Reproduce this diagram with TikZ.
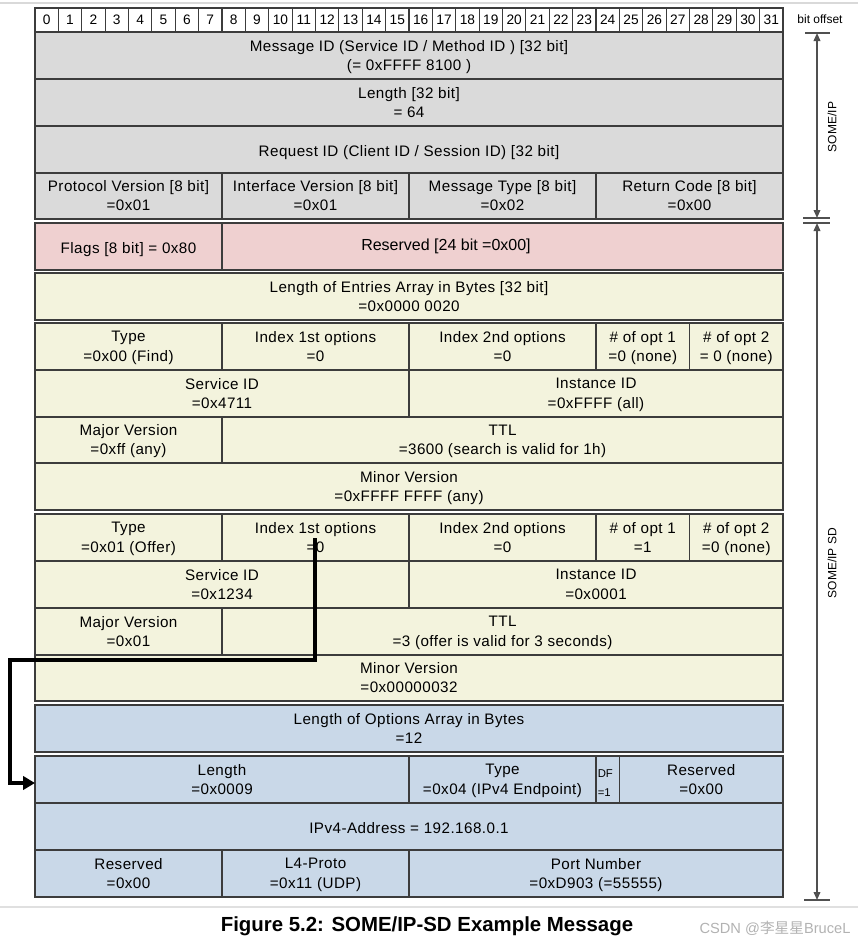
\documentclass[tikz,border=0pt]{standalone}
\usepackage{fontspec}
\setmainfont{Liberation Sans}
\newfontfamily\cjk{Noto Sans CJK SC}
\newfontfamily\cellfont[LetterSpace=3]{Liberation Sans}
\usetikzlibrary{arrows.meta}
\definecolor{cgray}{HTML}{DADADA}
\definecolor{cpink}{HTML}{EFD0D0}
\definecolor{ccream}{HTML}{F3F3DD}
\definecolor{cblue}{HTML}{C9D8E8}
\definecolor{cline}{HTML}{3C3C3C}
\definecolor{cdim}{HTML}{505050}
\newcommand\fcell[7]{%
  \node[cellbox, fill=#6, minimum width={(#4-#2)*0.75pt}, minimum height={(#5-#3)*0.75pt}] (#1) at ({(#2+#4)/2},{(#3+#5)/2}) {};
  \node[celltext] (#1t) at ({(#2+#4)/2},{(#3+#5)/2}) {#7};}
\begin{document}
\begin{tikzpicture}[x=0.75pt,y=-0.75pt,
  cellbox/.style={draw=cline, line width=1pt, rectangle, inner sep=0pt, outer sep=0pt},
  celltext/.style={inner sep=0pt, outer sep=0pt, align=center, yshift=-2pt,
    font=\cellfont\fontsize{11.4}{14.4}\selectfont,
    execute at begin node=\strut, execute at end node=\strut},
  bitbox/.style={draw=cline, line width=0.9pt, rectangle, inner sep=0pt, outer sep=0pt, fill=white,
    font=\fontsize{10.3}{12}\selectfont, minimum width={23.375*0.75pt}, minimum height={24*0.75pt}},
  dimline/.style={draw=cdim, line width=1.1pt},
  lbl/.style={font=\fontsize{9}{11}\selectfont, inner sep=0pt},
  link/.style={draw=black, line width=3pt, -{Triangle[length=9pt,width=10pt]}}]
\useasboundingbox (0,0) rectangle (858,947);
% separator lines
\draw[draw=black!15, line width=1pt] (0,3) -- (858,3);
\draw[draw=black!12, line width=1pt] (0,907) -- (858,907);
% bit header
\foreach \b in {0,...,31} {
  \node[bitbox] (b\b) at ({35+(\b+0.5)*23.375},20) {\b};
}
\node[lbl] (boff) at (820,19) {bit offset};
% SOME/IP header
\fcell{msgid}{35}{32}{783}{79}{cgray}{Message ID (Service ID / Method ID ) [32 bit]\\(= 0xFFFF 8100 )}
\fcell{len}{35}{79}{783}{126}{cgray}{Length [32 bit]\\= 64}
\fcell{reqid}{35}{126}{783}{173}{cgray}{Request ID (Client ID / Session ID) [32 bit]}
\fcell{pv}{35}{173}{222}{219}{cgray}{Protocol Version [8 bit]\\=0x01}
\fcell{iv}{222}{173}{409}{219}{cgray}{Interface Version [8 bit]\\=0x01}
\fcell{mt}{409}{173}{596}{219}{cgray}{Message Type [8 bit]\\=0x02}
\fcell{rc}{596}{173}{783}{219}{cgray}{Return Code [8 bit]\\=0x00}
% flags
\fcell{flags}{35}{223}{222}{270}{cpink}{Flags [8 bit] = 0x80}
\fcell{resv}{222}{223}{783}{270}{cpink}{}
\node[font=\fontsize{12}{14}\selectfont, inner sep=0pt] (resvtxt) at (446,246.5) {Reserved [24 bit =0x00]};
% entries length
\fcell{lenent}{35}{273}{783}{320}{ccream}{Length of Entries Array  in Bytes [32 bit]\\=0x0000 0020}
% entry 1
\fcell{eAtype}{35}{323}{222}{370}{ccream}{Type\\=0x00 (Find)}
\fcell{eAidx1}{222}{323}{409}{370}{ccream}{Index 1st options\\=0}
\fcell{eAidx2}{409}{323}{596}{370}{ccream}{Index 2nd options\\=0}
\fcell{eAno1}{596}{323}{689.5}{370}{ccream}{\# of opt  1\\=0 (none)}
\fcell{eAno2}{689.5}{323}{783}{370}{ccream}{\# of opt 2\\= 0 (none)}
\fcell{eAsid}{35}{370}{409}{417}{ccream}{Service ID\\=0x4711}
\fcell{eAiid}{409}{370}{783}{417}{ccream}{Instance ID\\=0xFFFF (all)}
\fcell{eAmaj}{35}{417}{222}{463}{ccream}{Major Version\\=0xff (any)}
\fcell{eAttl}{222}{417}{783}{463}{ccream}{TTL\\=3600  (search is valid for 1h)}
\fcell{eAmin}{35}{463}{783}{510}{ccream}{Minor Version\\=0xFFFF FFFF (any)}
% entry 2
\fcell{eBtype}{35}{514}{222}{561}{ccream}{Type\\=0x01 (Offer)}
\fcell{eBidx1}{222}{514}{409}{561}{ccream}{Index 1st options\\=0}
\fcell{eBidx2}{409}{514}{596}{561}{ccream}{Index 2nd options\\=0}
\fcell{eBno1}{596}{514}{689.5}{561}{ccream}{\# of opt  1\\=1}
\fcell{eBno2}{689.5}{514}{783}{561}{ccream}{\# of opt 2\\=0 (none)}
\fcell{eBsid}{35}{561}{409}{608}{ccream}{Service ID\\=0x1234}
\fcell{eBiid}{409}{561}{783}{608}{ccream}{Instance ID\\=0x0001}
\fcell{eBmaj}{35}{608}{222}{655}{ccream}{Major Version\\=0x01}
\fcell{eBttl}{222}{608}{783}{655}{ccream}{TTL\\=3 (offer is valid for 3 seconds)}
\fcell{eBmin}{35}{655}{783}{701}{ccream}{Minor Version\\=0x00000032}
% options
\fcell{lenopt}{35}{705}{783}{752}{cblue}{Length of Options Array  in Bytes\\=12}
\fcell{olen}{35}{756}{409}{803}{cblue}{Length\\=0x0009}
\fcell{otype}{409}{756}{596}{803}{cblue}{Type\\=0x04 (IPv4 Endpoint)}
\fcell{odf}{596}{756}{619.4}{803}{cblue}{}
\node[font=\fontsize{8.5}{14.4}\selectfont, align=left, anchor=west, inner sep=0pt] (dftxt) at (597.5,783) {DF\\=1};
\fcell{ores}{619.4}{756}{783}{803}{cblue}{Reserved\\=0x00}
\fcell{oip}{35}{803}{783}{850}{cblue}{IPv4-Address = 192.168.0.1}
\fcell{ores2}{35}{850}{222}{897}{cblue}{Reserved\\=0x00}
\fcell{oproto}{222}{850}{409}{897}{cblue}{L4-Proto\\=0x11 (UDP)}
\fcell{oport}{409}{850}{783}{897}{cblue}{Port Number\\=0xD903 (=55555)}
% link arrow
\coordinate (lk0) at (315,538);
\coordinate (lk1) at (315,660);
\coordinate (lk2) at (10,660);
\coordinate (lk3) at (10,783);
\coordinate (lk4) at (olen.west |- 0,783);
\draw[link] (lk0) -- (lk1) -- (lk2) -- (lk3) -- (lk4);
% dimension marks
\coordinate (d0) at (817,33);
\coordinate (d1) at (817,218);
\coordinate (d2) at (817,223);
\coordinate (d3) at (817,900);
\draw[dimline] (805,33) -- (830,33);
\draw[dimline] (803,218) -- (830,218);
\draw[dimline] (803,223) -- (830,223);
\draw[dimline] (804,900) -- (830,900);
\draw[dimline, {Triangle[length=6pt,width=5pt]}-{Triangle[length=6pt,width=5pt]}] (d0) -- (d1);
\draw[dimline, {Triangle[length=6pt,width=5pt]}-{Triangle[length=6pt,width=5pt]}] (d2) -- (d3);
\node[lbl, rotate=90] (someip) at (832,127) {SOME/IP};
\node[lbl, rotate=90] (someipsd) at (832,563) {SOME/IP SD};
% caption
\node[font=\fontsize{15.3}{17}\bfseries, inner sep=0pt] (cap) at (427,926) {Figure 5.2: SOME/IP-SD Example Message};
\node[font=\fontsize{11}{13}\selectfont, text=black!30, inner sep=0pt] (wm) at (775,928) {CSDN @{\cjk 李星星}BruceL};
\end{tikzpicture}
\end{document}
